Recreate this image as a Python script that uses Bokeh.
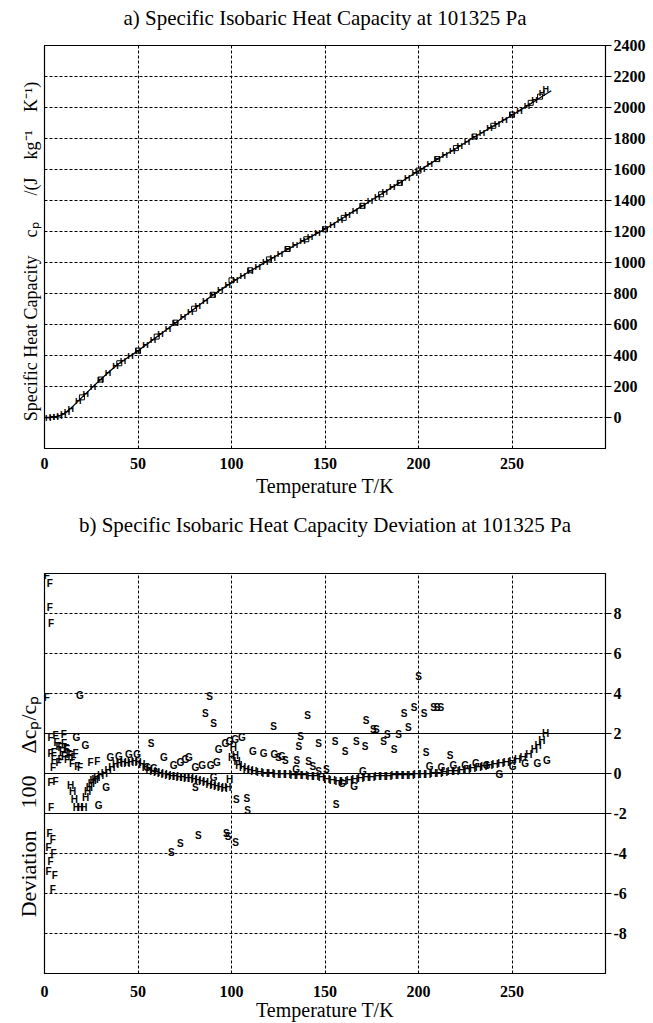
from bokeh.plotting import figure
from bokeh.layouts import column
from bokeh.models import LinearAxis, FixedTicker, Span, Range1d, ColumnDataSource, Title
from bokeh.core.properties import value
from bokeh.embed import file_html
from bokeh.resources import INLINE

SERIF = "Liberation Serif"
SANS = "Liberation Sans"

# ---------------- chart a data ----------------
curve_T = [0, 2, 4, 6, 8, 10, 12, 15, 20, 25, 30, 35, 40, 45, 50, 55, 60, 65, 70, 75, 80, 85, 90, 95,
           100, 105, 110, 115, 120, 125, 130, 135, 140, 145, 150, 155, 160, 165, 170, 175, 180, 185,
           190, 195, 200, 205, 210, 215, 220, 225, 230, 235, 240, 245, 250, 255, 260, 265, 271]
curve_cp = [0, 0, 1, 5, 11, 21, 38, 70, 130, 188, 245, 300, 350, 390, 430, 475, 520, 565, 610, 655,
            700, 745, 790, 830, 870, 908, 945, 980, 1015, 1050, 1085, 1118, 1150, 1183, 1215, 1253,
            1290, 1328, 1365, 1403, 1440, 1478, 1515, 1553, 1590, 1628, 1665, 1700, 1735, 1773, 1810,
            1845, 1880, 1915, 1950, 1988, 2025, 2063, 2108]

meas_H_T = [2, 4, 6, 8, 10, 12, 14, 18, 22, 26, 30, 34, 38, 42, 46, 50, 54, 58, 62, 66, 70, 74, 78,
            82, 86, 90, 94, 98, 102, 106, 110, 114, 118, 122, 126, 130, 134, 138, 142, 146, 150, 154,
            158, 162, 166, 170, 174, 178, 182, 186, 190, 194, 198, 202, 206, 210, 214, 218, 222, 226,
            230, 234, 238, 242, 246, 250, 254, 258, 262, 266, 268]
meas_H_cp = [0, 1, 5, 11, 21, 38, 58, 106, 153, 199, 245, 289, 330, 366, 398, 430, 466, 502, 538, 574,
             610, 646, 682, 718, 754, 790, 822, 854, 885, 915, 945, 973, 1001, 1029, 1057, 1085, 1111,
             1137, 1163, 1189, 1215, 1245, 1275, 1305, 1335, 1365, 1395, 1425, 1455, 1485, 1515, 1545,
             1575, 1605, 1635, 1665, 1693, 1721, 1750, 1780, 1810, 1838, 1866, 1894, 1922, 1950, 1980,
             2012, 2050, 2095, 2120]
meas_G_T = [20, 30, 40, 50, 60, 70, 80, 90, 100, 110, 120, 130, 140, 150, 160, 170, 180, 190, 200,
            210, 220, 230, 240, 250, 260, 265]
meas_G_cp = [130, 245, 350, 432, 522, 612, 702, 792, 885, 950, 1020, 1087, 1150, 1214, 1288, 1366,
             1440, 1514, 1593, 1667, 1738, 1813, 1882, 1955, 2030, 2070]

a_xticks = [0, 50, 100, 150, 200, 250]
a_yticks = [0, 200, 400, 600, 800, 1000, 1200, 1400, 1600, 1800, 2000, 2200, 2400]
a_ygrid = [0, 200, 400, 600, 800, 1000, 1200, 1400, 1600, 1800, 2000, 2200]
a_xgrid = [50, 100, 150, 200, 250]

# ---------------- chart b data ----------------
F_T = [1.2, 2.8, 2.8, 3.5, 1.2, 3.2, 5.9, 10.3, 8.6, 5.0, 9.4, 12.1, 13.9, 16.6, 3.2, 5.0, 8.6, 12.1,
       14.8, 4.6, 17.5, 3.2, 5.9, 3.5, 2.7, 4.4, 2.2, 4.9, 3.3, 2.2, 5.5, 4.4, 24.6, 28.2, 6.5, 7.5,
       10.5, 11.5, 13.0, 15.5, 7.5, 10.5, 19.0]
F_dev = [9.9, 9.5, 8.3, 7.5, 3.8, 1.8, 1.9, 1.95, 1.3, 1.05, 1.1, 1.2, 0.9, 1.0, 1.0, 0.7, 0.7, 0.7,
         0.5, 0.3, 0.35, -0.45, -0.4, -1.7, -3.0, -3.3, -3.7, -4.0, -4.4, -4.9, -5.1, -5.8, 0.55, 0.6,
         1.55, 1.35, 1.5, 1.25, 0.95, 0.8, 0.55, 0.85, 0.3]

G_T = [18.9, 17.1, 21.9, 29.0, 33.0, 35.3, 39.8, 45.1, 49.6, 54.9, 58.5, 63.8, 69.1, 72.7, 75.4, 77.2,
       80.7, 84.3, 88.8, 90.4, 92.2, 93.1, 96.7, 99.0, 102.0, 105.6, 111.5, 117.2, 122.9, 127.0,
       134.6, 159.0, 165.6, 170.2, 206.0, 212.2, 218.6, 224.9, 230.7, 236.5, 243.2, 250.4, 257.0,
       263.6, 268.6]
G_dev = [3.9, 1.8, 1.4, -1.6, -0.7, 0.8, 0.85, 0.95, 0.95, 0.3, 0.25, 0.8, 0.4, 0.55, 0.7, 0.8, 0.3,
         0.4, 0.4, -0.2, 0.55, 1.2, 1.5, 1.6, 1.7, 1.8, 1.1, 1.0, 0.95, 0.85, 0.2, -0.5, -0.65, 0.1,
         0.35, 0.3, 0.4, 0.4, 0.5, 0.4, -0.05, 0.35, 0.5, 0.5, 0.65]

S_T = [67.8, 72.7, 82.2, 97.3, 98.2, 102.2, 86.0, 88.3, 90.4, 102.6, 108.2, 108.6, 122.5, 125.2, 128.8,
       135.0, 136.0, 136.9, 140.7, 141.2, 143.5, 146.6, 146.6, 150.7, 155.4, 155.9, 160.8, 166.7,
       171.5, 172.0, 175.9, 177.5, 181.3, 183.4, 187.0, 189.3, 192.3, 194.6, 197.6, 200.0, 203.0,
       204.0, 208.0, 210.0, 212.0, 216.9, 57.0, 80.7]
S_dev = [-3.95, -3.5, -3.1, -3.0, -3.15, -3.45, 3.0, 3.85, 2.5, -1.3, -1.25, -1.85, 2.35, 0.8, 0.65,
         0.65, 1.35, 1.85, 2.9, 0.6, 0.35, 1.5, 0.1, 0.2, 1.6, -1.55, 1.1, 1.6, 1.35, 2.65, 2.2, 2.2,
         1.6, 1.95, 1.2, 1.95, 3.0, 2.3, 3.3, 4.85, 3.0, 1.05, 3.3, 3.3, 3.3, 0.9, 1.5, -0.7]

H_T = [14, 15, 16, 17, 19, 21, 22, 23, 24, 25, 26, 27, 28, 30, 32, 34, 36, 38, 40, 42, 44, 46, 48, 50,
       52, 54, 56, 58, 60, 62, 64, 66, 68, 70, 72, 74, 76, 78, 80, 82, 84, 86, 88, 90, 92, 94, 96, 98,
       99, 100, 101, 102, 103, 104, 106, 108, 110, 112, 115, 118, 121, 124, 127, 130, 133, 136, 139,
       142, 145, 148, 151, 154, 157, 160, 163, 166, 169, 172, 175, 178, 181, 184, 187, 190, 193, 196,
       199, 202, 205, 208, 211, 214, 217, 220, 223, 226, 229, 232, 235, 238, 241, 244, 247, 250, 253,
       256, 259, 262, 264, 266, 268]
H_dev = [-0.6, -0.9, -1.3, -1.7, -1.7, -1.7, -1.2, -0.9, -0.7, -0.5, -0.35, -0.3, -0.2, -0.1, 0.0,
         0.15, 0.3, 0.45, 0.5, 0.55, 0.5, 0.55, 0.6, 0.55, 0.45, 0.3, 0.2, 0.1, 0.05, 0.0, -0.05, -0.1,
         -0.15, -0.15, -0.2, -0.2, -0.25, -0.25, -0.3, -0.35, -0.4, -0.45, -0.55, -0.6, -0.65, -0.7,
         -0.75, -0.7, -0.3, 0.8, 1.3, 0.9, 0.6, 0.4, 0.3, 0.2, 0.15, 0.1, 0.05, 0.0, 0.0, -0.05, -0.05,
         -0.05, -0.1, -0.1, -0.1, -0.15, -0.15, -0.2, -0.3, -0.35, -0.4, -0.4, -0.35, -0.3, -0.25,
         -0.2, -0.2, -0.15, -0.15, -0.15, -0.1, -0.1, -0.1, -0.1, -0.05, -0.05, -0.05, 0.0, 0.0, 0.05,
         0.1, 0.1, 0.15, 0.2, 0.25, 0.3, 0.35, 0.4, 0.45, 0.5, 0.55, 0.6, 0.7, 0.8, 0.95, 1.2, 1.4,
         1.65, 2.0]

b_xticks = [0, 50, 100, 150, 200, 250]
b_yticks = [-8, -6, -4, -2, 0, 2, 4, 6, 8]
b_ygrid = [-8, -6, -4, 4, 6, 8]
b_solid = [-2, 0, 2]
b_xgrid = [50, 100, 150, 200, 250]


def style_common(p, title, title_gap, xticks, xgrid, ygrid, yticks, ylabel, ylabel_size,
                 xlab_standoff, xtitle_standoff):
    # spacer first (closest to frame), then the real title above it
    p.add_layout(Title(text=" ", text_font_size="1px", standoff=title_gap), "above")
    p.add_layout(Title(text=title, align="center", text_font=SERIF, text_font_size="21px",
                       text_font_style="normal", text_color="black", standoff=6), "above")
    p.outline_line_color = "black"
    p.outline_line_width = 1.2
    p.background_fill_color = "white"
    p.border_fill_color = "white"

    for g, t in ((p.xgrid[0], xgrid), (p.ygrid[0], ygrid)):
        g.ticker = FixedTicker(ticks=t)
        g.grid_line_color = "black"
        g.grid_line_dash = "3 2"
        g.grid_line_width = 1
        g.grid_line_alpha = 1

    xa = p.xaxis[0]
    xa.ticker = FixedTicker(ticks=xticks)
    xa.axis_label = "Temperature T/K"
    xa.axis_label_text_font = SERIF
    xa.axis_label_text_font_size = "20px"
    xa.axis_label_text_font_style = "normal"
    xa.axis_label_text_color = "black"
    xa.axis_label_standoff = xtitle_standoff
    xa.major_label_text_font = SERIF
    xa.major_label_text_font_size = "16px"
    xa.major_label_text_font_style = "bold"
    xa.major_label_text_color = "black"
    xa.major_label_standoff = xlab_standoff
    xa.major_tick_out = 0
    xa.major_tick_in = 0
    xa.minor_tick_out = 0
    xa.minor_tick_in = 0
    xa.axis_line_color = "black"

    ya = p.yaxis[0]
    ya.ticker = FixedTicker(ticks=yticks)
    ya.major_label_text_font = SERIF
    ya.major_label_text_font_size = "16px"
    ya.major_label_text_font_style = "bold"
    ya.major_label_text_color = "black"
    ya.major_label_standoff = 2
    ya.major_tick_out = 6
    ya.major_tick_in = 0
    ya.minor_tick_out = 0
    ya.minor_tick_in = 0
    ya.axis_line_color = "black"
    ya.major_tick_line_color = "black"
    ya.major_label_overrides = {t: str(t) for t in yticks}

    la = LinearAxis(ticker=FixedTicker(ticks=[]), axis_label=ylabel)
    la.axis_label_text_font = SERIF
    la.axis_label_text_font_size = ylabel_size
    la.axis_label_text_font_style = "normal"
    la.axis_label_text_color = "black"
    la.axis_label_standoff = 4
    la.major_tick_out = 0
    la.minor_tick_out = 0
    la.major_label_text_font_size = "0px"
    la.axis_line_color = "black"
    p.add_layout(la, "left")


# ---------------- figure a ----------------
pa = figure(width=653, height=505, x_range=Range1d(0, 300), y_range=Range1d(-200, 2400),
            output_backend="svg", toolbar_location=None, y_axis_location="right", title=None,
            min_border_left=43, min_border_right=48, min_border_top=45, min_border_bottom=57)
style_common(pa, "a) Specific Isobaric Heat Capacity at 101325 Pa", 10, a_xticks, a_xgrid, a_ygrid,
             a_yticks,
             "Specific Heat Capacity\u2003c\u209a\u2003\u2002/(J\u2003kg\u207b\u00b9\u2003K\u207b\u00b9)\u2002",
             "18px", 9, 3)

pa.line(curve_T, curve_cp, line_color="black", line_width=1.3)
pa.scatter(meas_G_T, meas_G_cp, marker="square", size=5, fill_color=None, line_color="black",
           line_width=1)
pa.text(x=meas_H_T, y=meas_H_cp, text=["H"] * len(meas_H_T), text_font=value(SANS),
        text_font_size="9px", text_font_style="bold", text_align="center",
        text_baseline="middle", text_color="black")

# ---------------- figure b ----------------
pb = figure(width=653, height=518, x_range=Range1d(0, 300), y_range=Range1d(-10, 10),
            output_backend="svg", toolbar_location=None, y_axis_location="right", title=None,
            min_border_left=44, min_border_right=48, min_border_top=68, min_border_bottom=50)
style_common(pb, "b) Specific Isobaric Heat Capacity Deviation at 101325 Pa", 31, b_xticks, b_xgrid,
             b_ygrid, b_yticks,
             "Deviation\u2003100\u2003\u0394c\u209a/c\u209a\u2003\u2003\u2003",
             "22px", 12, -1)

for v in b_solid:
    pb.add_layout(Span(location=v, dimension="width", line_color="black", line_width=1))

for xs, ys, letter in ((F_T, F_dev, "F"), (G_T, G_dev, "G"), (S_T, S_dev, "S"), (H_T, H_dev, "H")):
    src = ColumnDataSource(dict(x=xs, y=ys, t=[letter] * len(xs)))
    pb.text(x="x", y="y", text="t", source=src, text_font=value(SANS), text_font_size="10px",
            text_font_style="bold", text_align="center", text_baseline="middle",
            text_color="black")

layout = column(pa, pb, spacing=0)
open("out.html", "w").write(file_html(layout, INLINE))
